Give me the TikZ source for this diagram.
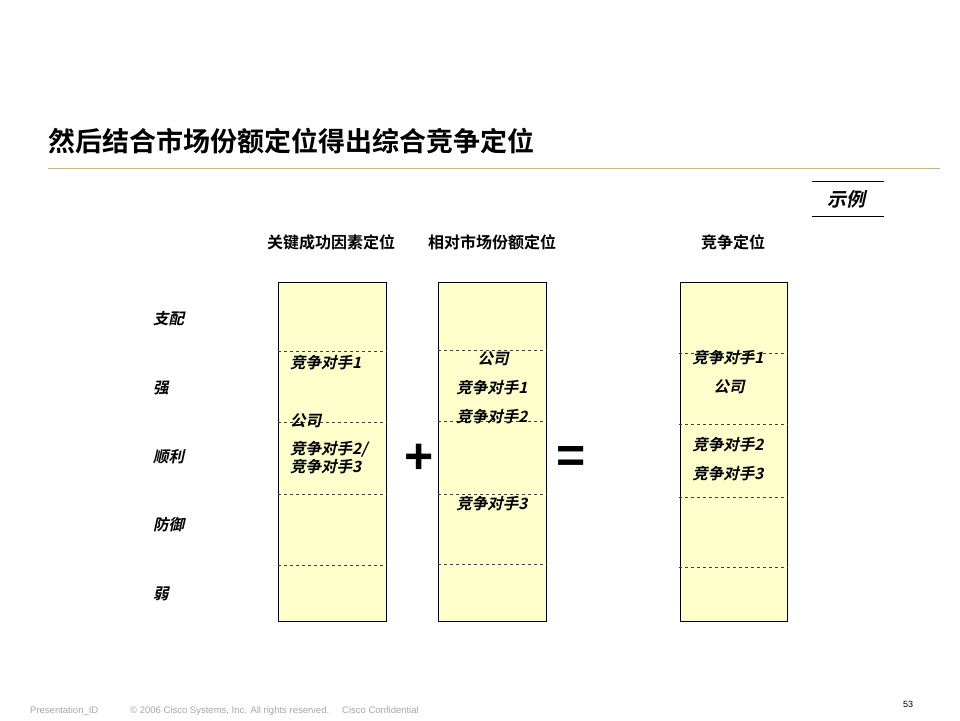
\documentclass[tikz,border=0pt]{standalone}
\usepackage{fontspec}
\setmainfont{Liberation Sans}
\newfontfamily\cjk{Noto Sans CJK SC}[BoldFont={Noto Sans CJK SC Bold}]
\newfontfamily\cjkit{Noto Sans CJK SC Bold}[FakeSlant=0.22]
\begin{document}
\begin{tikzpicture}[x=1pt,y=-1pt,
  col/.style={draw=black, fill=boxfill, line width=0.9pt},
  sep/.style={dashed, draw=black!75, line width=0.6pt},
  it/.style={font=\cjkit\fontsize{15.5}{17}\selectfont, inner sep=0pt},
  hdr/.style={font=\cjk\bfseries\fontsize{16}{18}\selectfont, inner sep=0pt},
  foot/.style={font=\fontsize{9.5}{10}\selectfont, text=black!35, inner sep=0pt, anchor=base west}]
\definecolor{boxfill}{HTML}{FFFFCC}
\definecolor{rulecol}{HTML}{C8B48C}
\useasboundingbox (0,0) rectangle (960,720);
% title
\node[font=\cjk\bfseries\fontsize{27}{30}\selectfont, anchor=west, inner sep=0pt] (title) at (48,141) {然后结合市场份额定位得出综合竞争定位};
\draw[rulecol, line width=0.8pt] (48,168) coordinate (r1) -- (940,168) coordinate (r2);
% example tag
\draw[line width=0.8pt] (812,181) coordinate (e1) -- (884,181) coordinate (e2);
\draw[line width=0.8pt] (812,216) coordinate (e3) -- (884,216) coordinate (e4);
\node[it, font=\cjkit\fontsize{19}{21}\selectfont] (ex) at (846,199) {示例};
% headers
\node[hdr] (h1) at (331,242) {关键成功因素定位};
\node[hdr] (h2) at (492,242) {相对市场份额定位};
\node[hdr] (h3) at (733,242) {竞争定位};
% row labels
\node[it, anchor=west] (l1) at (153,319) {支配};
\node[it, anchor=west] (l2) at (153,388) {强};
\node[it, anchor=west] (l3) at (153,457) {顺利};
\node[it, anchor=west] (l4) at (153,525) {防御};
\node[it, anchor=west] (l5) at (153,594) {弱};
% columns
\draw[col] (278,282) rectangle (386,621);
\draw[col] (438,282) rectangle (546,621);
\draw[col] (680,282) rectangle (787,621);
\foreach \y in {351,422,494,565} \draw[sep] (278,\y) -- (387,\y);
\foreach \y in {350,421,494,564} \draw[sep] (438,\y) -- (547,\y);
\foreach \y in {353,424,497,567} \draw[sep] (679,\y) -- (788,\y);
% column 1 texts
\node[it, anchor=west] (c1a) at (290,363) {竞争对手1};
\node[it, anchor=west] (c1b) at (290,421) {公司};
\node[it, anchor=west] (c1c) at (290,449) {竞争对手2/};
\node[it, anchor=west] (c1d) at (290,467) {竞争对手3};
% column 2 texts
\node[it] (c2a) at (493,359) {公司};
\node[it] (c2b) at (492,388) {竞争对手1};
\node[it] (c2c) at (492,417) {竞争对手2};
\node[it] (c2d) at (492,504) {竞争对手3};
% column 3 texts
\node[it] (c3a) at (728,358) {竞争对手1};
\node[it] (c3b) at (729,387) {公司};
\node[it] (c3c) at (728,445) {竞争对手2};
\node[it] (c3d) at (728,474) {竞争对手3};
% operators
\node[font=\bfseries\fontsize{50}{50}\selectfont, inner sep=0pt] (plus) at (419,459) {+};
\node[font=\bfseries\fontsize{50}{50}\selectfont, inner sep=0pt] (eq) at (571,459) {=};
% footer
\node[foot] (f1) at (30,713) {Presentation\_ID};
\node[foot] (f2) at (130,713) {© 2006 Cisco Systems, Inc. All rights reserved.};
\node[foot] (f3) at (342,713) {Cisco Confidential};
\node[font=\fontsize{9}{10}\selectfont, inner sep=0pt] (pg) at (908,704) {53};
\end{tikzpicture}
\end{document}
